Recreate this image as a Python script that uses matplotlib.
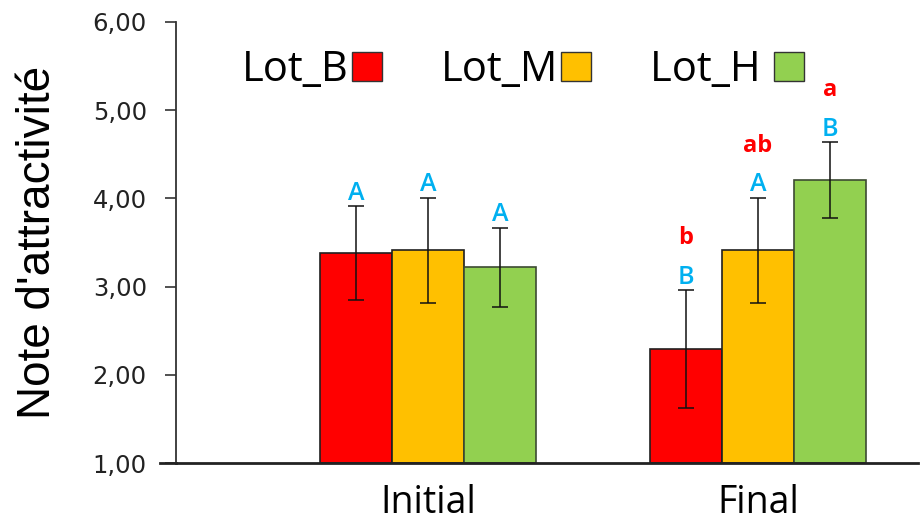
import numpy as np
import matplotlib.pyplot as plt
from matplotlib.patches import Patch

groups = ['Initial', 'Final']
lots = ['Lot_B', 'Lot_M', 'Lot_H ']
colors = ['#FF0000', '#FFC000', '#92D050']
edges = ['#202020', '#202020', '#3c4a32']

means = {'Lot_B': [3.38, 2.29], 'Lot_M': [3.41, 3.41], 'Lot_H ': [3.22, 4.21]}
errs = {'Lot_B': [0.53, 0.67], 'Lot_M': [0.60, 0.60], 'Lot_H ': [0.45, 0.43]}
upper_letters = {'Lot_B': ['A', 'B'], 'Lot_M': ['A', 'A'], 'Lot_H ': ['A', 'B']}
lower_letters = {'Lot_B': ['', 'b'], 'Lot_M': ['', 'ab'], 'Lot_H ': ['', 'a']}

fig = plt.figure(figsize=(9.21, 5.26), dpi=100)
ax = fig.add_axes([176/921, 63/526, 742/921, 441/526])

x = np.arange(len(groups))
w = 0.218
for i, lot in enumerate(lots):
    pos = x + (i - 1) * w
    ax.bar(pos, np.array(means[lot]) - 1, w, bottom=1, color=colors[i],
           edgecolor=edges[i], linewidth=1.2, label=lot.strip(), zorder=2)
    ax.errorbar(pos, means[lot], yerr=errs[lot], fmt='none', ecolor='#111111',
                elinewidth=1.1, capsize=6, capthick=1.1, zorder=3)
    for p, m, e, up, lo in zip(pos, means[lot], errs[lot], upper_letters[lot], lower_letters[lot]):
        ax.text(p, m + e + 0.07, up, ha='center', va='baseline', color='#00B0F0',
                fontsize=18, family='Open Sans', fontweight='semibold')
        if lo:
            ax.text(p, m + e + 0.52, lo, ha='center', va='baseline', color='#FF0000',
                    fontsize=17, family='Open Sans', fontweight='bold')

ax.set_xlim(-0.764, 1.485)
ax.set_ylim(1, 6)
ax.set_yticks(np.arange(1, 7))
ax.set_yticklabels([f'{v:.2f}'.replace('.', ',') for v in range(1, 7)],
                   fontsize=17.5, color='#222222')
ax.tick_params(axis='y', length=8, width=1.2, color='#333333', pad=13)
ax.set_xticks(x)
ax.set_xticklabels(groups, fontsize=27, family='Open Sans')
ax.tick_params(axis='x', length=0, pad=15)

for s in ['top', 'right']:
    ax.spines[s].set_visible(False)
ax.spines['left'].set_color('#333333')
ax.spines['left'].set_linewidth(1.3)
ax.spines['bottom'].set_color('#222222')
ax.spines['bottom'].set_linewidth(2)
ax.plot([-16/742, 0], [0, 0], transform=ax.transAxes, clip_on=False,
        color='#222222', lw=2)

ax.set_ylabel("Note d'attractivité", fontsize=33, family='Liberation Sans')
ax.yaxis.set_label_coords(-116/742, 0.5)

handles = [Patch(facecolor=c, edgecolor='#333333', linewidth=1) for c in colors]
ax.legend(handles, lots, ncol=3, markerfirst=False, frameon=False,
          loc='center left', bbox_to_anchor=(0.061, 0.891), borderpad=0,
          prop={'family': 'Open Sans', 'size': 30}, handlelength=0.72,
          handleheight=0.72, handletextpad=0.08, columnspacing=1.4)

fig.savefig('out.png', dpi=100)
